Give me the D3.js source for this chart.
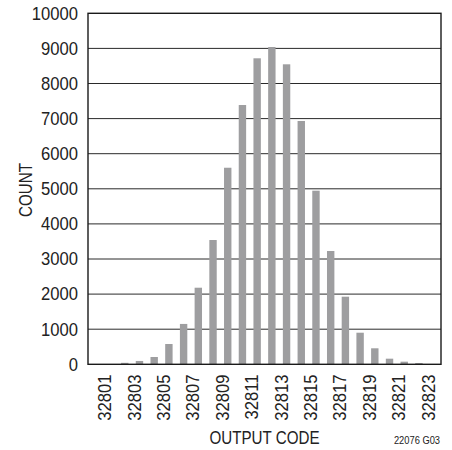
<!DOCTYPE html>
<html>
<head>
<meta charset="utf-8">
<script src="https://cdn.jsdelivr.net/npm/d3@7"></script>
<style>
  html, body { margin: 0; padding: 0; background: #fff; }
  svg { display: block; }
</style>
</head>
<body>
<svg id="chart" width="452" height="450"></svg>
<script>
const codes = [32801,32802,32803,32804,32805,32806,32807,32808,32809,32810,32811,32812,32813,32814,32815,32816,32817,32818,32819,32820,32821,32822,32823];
const counts = [0,4,42,95,208,578,1150,2182,3541,5600,7387,8718,9040,8547,6932,4946,3228,1926,900,456,160,75,37];
const yTicks = [0,1000,2000,3000,4000,5000,6000,7000,8000,9000,10000];
const xTickLabels = [32801,32803,32805,32807,32809,32811,32813,32815,32817,32819,32821,32823];
const xTitle = "OUTPUT CODE";
const yTitle = "COUNT";
const figId = "22076 G03";

const svg = d3.select("#chart");
const L = 88, R = 441, T = 13.3, B = 364.3;

const x = d3.scaleLinear().domain([32800.5, 32824.5]).range([L, R]);
const y = d3.scaleLinear().domain([0, 10000]).range([B, T]);
const barW = 7.4;
const font = "'Liberation Sans', Arial, Helvetica, sans-serif";

// gridlines
svg.append("g").selectAll("line")
  .data(yTicks.filter(v => v > 0 && v < 10000))
  .join("line")
  .attr("x1", L).attr("x2", R)
  .attr("y1", d => y(d)).attr("y2", d => y(d))
  .attr("stroke", "#2a2a2a").attr("stroke-width", 1);

// bars
svg.append("g").selectAll("rect")
  .data(codes.map((c, i) => ({c, v: counts[i]})))
  .join("rect")
  .attr("x", d => x(d.c) - barW / 2)
  .attr("width", barW)
  .attr("y", d => y(d.v))
  .attr("height", d => y(0) - y(d.v))
  .attr("fill", "#9e9ea0");

// frame
svg.append("rect")
  .attr("x", L).attr("y", T).attr("width", R - L).attr("height", B - T)
  .attr("fill", "none").attr("stroke", "#1a1a1a").attr("stroke-width", 1.4);

// y tick labels
svg.append("g").selectAll("text")
  .data(yTicks)
  .join("text")
  .attr("transform", d => `translate(78,${y(d)}) scale(0.95,1)`)
  .attr("dy", "0.36em")
  .attr("text-anchor", "end")
  .attr("font-family", font)
  .attr("font-size", 17.5)
  .attr("fill", "#222")
  .text(d => d);

// x tick labels
svg.append("g").selectAll("text")
  .data(xTickLabels)
  .join("text")
  .attr("transform", d => `translate(${x(d) + 15.8},374.5) rotate(-90) scale(0.9,1)`)
  .attr("text-anchor", "end")
  .attr("font-family", font)
  .attr("font-size", 18.5)
  .attr("fill", "#222")
  .text(d => d);

// axis titles
svg.append("text")
  .attr("transform", `translate(${(L + R) / 2},444) scale(0.82,1)`)
  .attr("text-anchor", "middle")
  .attr("font-family", font)
  .attr("font-size", 18.5)
  .attr("fill", "#222")
  .text(xTitle);

svg.append("text")
  .attr("transform", `translate(31.7,190) rotate(-90) scale(0.82,1)`)
  .attr("text-anchor", "middle")
  .attr("font-family", font)
  .attr("font-size", 18.5)
  .attr("fill", "#222")
  .text(yTitle);

svg.append("text")
  .attr("transform", `translate(440,443.5) scale(0.81,1)`)
  .attr("text-anchor", "end")
  .attr("font-family", font)
  .attr("font-size", 11.5)
  .attr("fill", "#222")
  .text(figId);
</script>
</body>
</html>
